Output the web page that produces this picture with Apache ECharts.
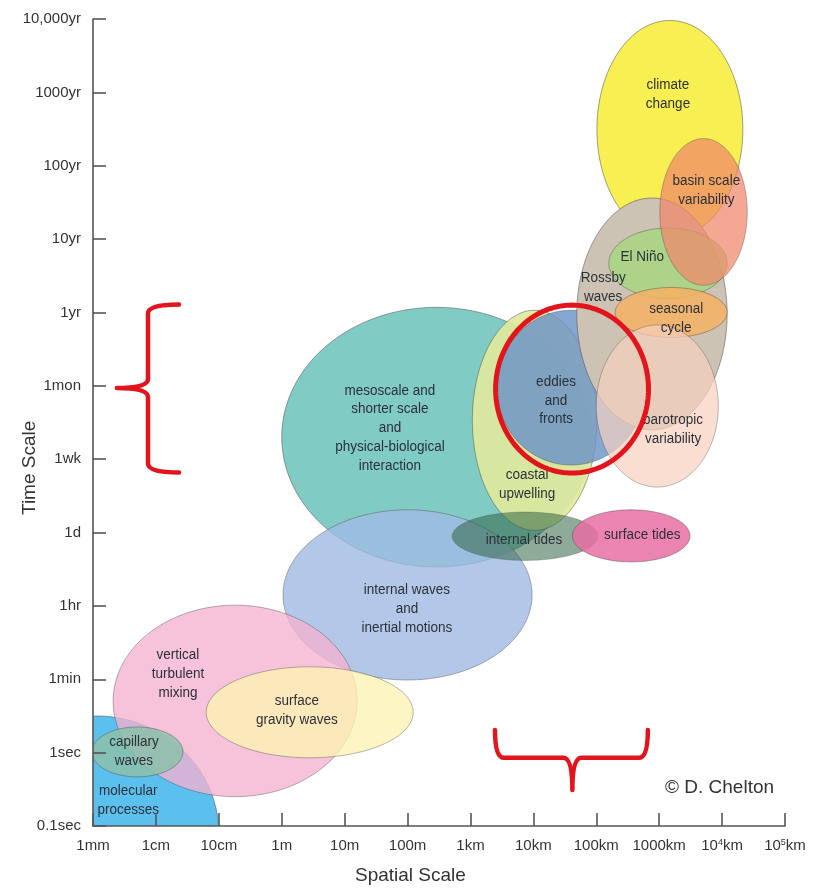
<!DOCTYPE html>
<html>
<head>
<meta charset="utf-8">
<title>Spatial and temporal scales of ocean processes</title>
<script src="https://cdn.jsdelivr.net/npm/echarts@6/dist/echarts.min.js"></script>
<style>
  html, body { margin: 0; padding: 0; background: #ffffff; }
  #chart { width: 819px; height: 891px; }
</style>
</head>
<body>
<div id="chart"></div>
<script>
// ---- Tick labels: one decade of length per x step, one time step per y step ----
const spaceTicks = ['1mm', '1cm', '10cm', '1m', '10m', '100m', '1km', '10km', '100km', '1000km', '10{s|4}km', '10{s|5}km'];
const timeTicks = ['0.1sec', '1sec', '1min', '1hr', '1d', '1wk', '1mon', '1yr', '10yr', '100yr', '1000yr', '10,000yr'];

// ---- Processes, in drawing order (back to front) ----
const processes = [
  'climate\nchange',
  'mesoscale and\nshorter scale\nand\nphysical-biological\ninteraction',
  'coastal\nupwelling',
  'internal waves\nand\ninertial motions',
  'eddies\nand\nfronts',
  'Rossby\nwaves',
  'El Niño',
  'basin scale\nvariability',
  'seasonal\ncycle',
  'barotropic\nvariability',
  'internal tides',
  'surface tides',
  'molecular\nprocesses',
  'vertical\nturbulent\nmixing',
  'surface\ngravity waves',
  'capillary\nwaves'
];
// spatial extent, in x-axis steps (0 = 1mm, 11 = 10^5 km)
const spaceFrom = [8.01, 3.00, 6.03, 3.02, 6.42, 7.69, 8.20, 9.01, 8.30, 8.00, 5.71, 7.62, -1.90, 0.32, 1.80, -0.02];
const spaceTo   = [10.33, 7.92, 8.01, 6.98, 8.78, 10.08, 10.08, 10.40, 10.08, 9.94, 8.03, 9.49, 2.00, 4.20, 5.09, 1.43];
// temporal extent, in y-axis steps (0 = 0.1sec, 11 = 10,000yr)
const timeFrom  = [8.01, 3.53, 4.03, 1.99, 4.92, 5.40, 7.19, 7.37, 6.66, 4.62, 3.62, 3.60, -1.70, 0.40, 0.93, 0.67];
const timeTo    = [10.98, 7.07, 7.03, 4.31, 7.03, 8.56, 8.15, 9.37, 7.34, 6.83, 4.28, 4.31, 1.50, 3.01, 2.17, 1.35];

// ---- Layout and styling ----
// caption anchor for each process (axis units)
const captionSpace = [9.14, 4.72, 6.90, 4.99, 7.36, 8.11, 8.73, 9.75, 9.27, 9.22, 6.85, 8.73, 0.56, 1.35, 3.24, 0.65];
const captionTime  = [9.97, 5.42, 4.65, 2.96, 5.80, 7.34, 7.75, 8.66, 6.92, 5.40, 3.90, 3.96, 0.35, 2.07, 1.58, 1.01];

const fills = [
  '#f8ef52', '#7ac8c2', '#e0e99c', 'rgb(160,186,226)', 'rgb(105,145,200)', 'rgb(205,195,180)',
  'rgb(165,215,125)', 'rgb(240,135,105)', 'rgb(245,178,100)', 'rgb(246,208,190)', 'rgb(50,100,70)',
  'rgb(232,110,162)', 'rgb(92,192,238)', 'rgb(243,178,208)', 'rgb(252,244,180)', 'rgb(140,192,170)'
];
const opacities = [1, 0.95, 0.92, 0.8, 0.8, 1, 0.8, 0.72, 0.85, 0.7, 0.55, 0.85, 1, 0.78, 0.78, 0.85];
const blends = ['', '', '', '', '', 'multiply', '', '', '', '', '', '', '', '', '', ''];

// highlighted mesoscale band: circle around eddies, braces along both axes (axis units)
const highlight = { space: [6.40, 8.83], time: [4.81, 7.10] };
const timeBrace = { spine: 0.874, end: 1.367, tip: 0.38, from: 4.82, to: 7.11, mid: 5.97 };
const spaceBrace = { spine: 0.93, end: 1.31, tip: 0.49, from: 6.39, to: 8.82, mid: 7.62 };

const FONT = '"Liberation Sans", Arial, sans-serif';

const ellipseData = processes.map((p, i) => ({
  name: p.replace(/\n/g, ' '),
  value: [spaceFrom[i], spaceTo[i], timeFrom[i], timeTo[i]]
}));
const captionData = processes.map((p, i) => ({ name: p, value: [captionSpace[i], captionTime[i]] }));

function ellipsePoints(api, x0, x1, y0, y1) {
  const a = api.coord([x0, y0]);
  const b = api.coord([x1, y1]);
  const cx = (a[0] + b[0]) / 2, cy = (a[1] + b[1]) / 2;
  const rx = Math.abs(b[0] - a[0]) / 2, ry = Math.abs(b[1] - a[1]) / 2;
  const pts = [];
  const n = 160;
  for (let k = 0; k < n; k++) {
    const t = (k / n) * Math.PI * 2;
    pts.push([cx + rx * Math.cos(t), cy + ry * Math.sin(t)]);
  }
  return pts;
}

function renderEllipse(params, api) {
  const i = params.dataIndex;
  const style = {
    fill: fills[i],
    stroke: 'rgba(70,70,70,0.5)',
    lineWidth: 1,
    opacity: opacities[i]
  };
  if (blends[i]) style.blend = blends[i];
  return {
    type: 'polygon',
    shape: { points: ellipsePoints(api, api.value(0), api.value(1), api.value(2), api.value(3)) },
    style: style
  };
}

function renderCaption(params, api) {
  const p = api.coord([api.value(0), api.value(1)]);
  return {
    type: 'text',
    x: p[0], y: p[1],
    scaleY: 1.08,
    style: {
      text: processes[params.dataIndex],
      x: 0, y: 0,
      align: 'center', verticalAlign: 'middle',
      fontSize: 13.5, fontFamily: FONT, lineHeight: 17.5,
      fill: '#2c3038'
    }
  };
}

function renderHighlight(params, api) {
  const ring = ellipsePoints(api, highlight.space[0], highlight.space[1], highlight.time[0], highlight.time[1]);
  const r = 9;
  // brace along the time axis, opening to the right
  const xe = api.coord([timeBrace.end, 0])[0];
  const xs = api.coord([timeBrace.spine, 0])[0];
  const xt = api.coord([timeBrace.tip, 0])[0];
  const yT = api.coord([0, timeBrace.to])[1];
  const yB = api.coord([0, timeBrace.from])[1];
  const yM = api.coord([0, timeBrace.mid])[1];
  const left = `M${xe},${yT} Q${xs},${yT} ${xs},${yT + r} L${xs},${yM - r} Q${xs},${yM} ${xt},${yM} ` +
               `Q${xs},${yM} ${xs},${yM + r} L${xs},${yB - r} Q${xs},${yB} ${xe},${yB}`;
  // brace along the space axis, opening upward
  const x1 = api.coord([spaceBrace.from, 0])[0];
  const x2 = api.coord([spaceBrace.to, 0])[0];
  const xm = api.coord([spaceBrace.mid, 0])[0];
  const ys = api.coord([0, spaceBrace.spine])[1];
  const ye = api.coord([0, spaceBrace.end])[1];
  const yt = api.coord([0, spaceBrace.tip])[1];
  const bottom = `M${x1},${ye} Q${x1},${ys} ${x1 + r},${ys} L${xm - r},${ys} Q${xm},${ys} ${xm},${yt} ` +
                 `Q${xm},${ys} ${xm + r},${ys} L${x2 - r},${ys} Q${x2},${ys} ${x2},${ye}`;
  const red = { fill: 'none', stroke: '#e3141b', lineWidth: 4.5, lineCap: 'round', lineJoin: 'round' };
  return {
    type: 'group',
    children: [
      { type: 'polygon', shape: { points: ring }, style: { fill: 'none', stroke: '#e3141b', lineWidth: 5 } },
      { type: 'path', shape: { pathData: left }, style: red },
      { type: 'path', shape: { pathData: bottom }, style: red }
    ]
  };
}

const axisColor = '#555555';
const chart = echarts.init(document.getElementById('chart'), null, { renderer: 'canvas' });
chart.setOption({
  animation: false,
  backgroundColor: '#ffffff',
  grid: { left: 93, right: 34, top: 19, bottom: 65 },
  xAxis: {
    type: 'value', min: 0, max: 11, interval: 1, z: 10,
    axisLine: { onZero: false, lineStyle: { color: axisColor, width: 1.6 } },
    axisTick: { inside: true, length: 13, lineStyle: { color: axisColor, width: 1.6 } },
    splitLine: { show: false },
    axisLabel: {
      margin: 12, fontSize: 15, color: '#333', fontFamily: FONT,
      formatter: v => spaceTicks[Math.round(v)],
      rich: { s: { fontSize: 9, fontFamily: FONT, color: '#333', verticalAlign: 'top', padding: [0, 0, 7, 0] } }
    }
  },
  yAxis: {
    type: 'value', min: 0, max: 11, interval: 1, z: 10,
    axisLine: { onZero: false, lineStyle: { color: axisColor, width: 1.6 } },
    axisTick: { inside: true, length: 13, lineStyle: { color: axisColor, width: 1.6 } },
    splitLine: { show: false },
    axisLabel: {
      margin: 12, fontSize: 15, color: '#333', fontFamily: FONT,
      formatter: v => timeTicks[Math.round(v)]
    }
  },
  graphic: [
    { type: 'text', left: 355, top: 866, style: { text: 'Spatial Scale', fontSize: 19, fontFamily: FONT, fill: '#333' } },
    { type: 'text', x: 20, y: 515, rotation: Math.PI / 2, style: { text: 'Time Scale', fontSize: 19, fontFamily: FONT, fill: '#333' } },
    { type: 'text', left: 665, top: 778, style: { text: '© D. Chelton', fontSize: 19, fontFamily: FONT, fill: '#333' } }
  ],
  series: [
    { type: 'custom', name: 'processes', clip: true, data: ellipseData, renderItem: renderEllipse, silent: true },
    { type: 'custom', name: 'captions', clip: false, data: captionData, renderItem: renderCaption, silent: true },
    { type: 'custom', name: 'highlight', clip: false, data: [[0, 0]], renderItem: renderHighlight, silent: true }
  ]
});
</script>
</body>
</html>
